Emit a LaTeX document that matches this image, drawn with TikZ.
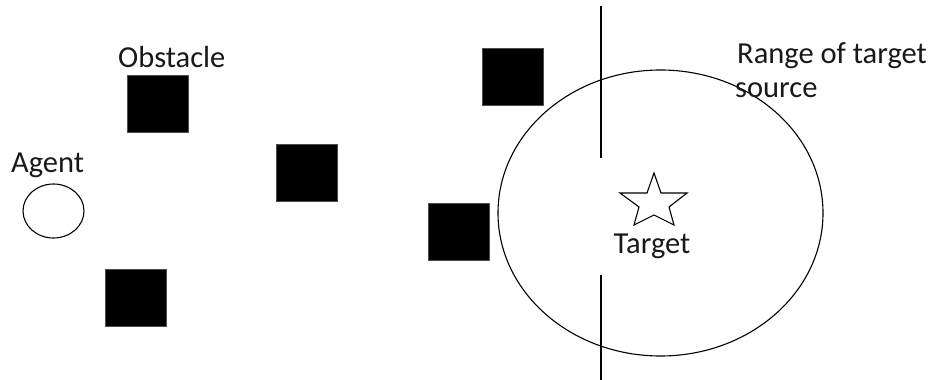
\documentclass[tikz,border=0pt]{standalone}
\usepackage{fontspec}
\setmainfont{Carlito}
\usetikzlibrary{shapes.geometric}
\begin{document}
\begin{tikzpicture}[x=1pt,y=-1pt,
  obst/.style={draw=black!70,fill=black,line width=0.6pt,inner sep=0pt,minimum width=61pt,minimum height=57pt},
  lbl/.style={inner sep=0pt,font=\fontsize{30.5}{36}\selectfont,text=black!90},
  thin/.style={line width=1.1pt}]
\useasboundingbox[fill=white] (0,0) rectangle (938,380);
% obstacles
\node[obst] (o1) at (158,103.5) {};
\node[obst] (o2) at (306.5,173) {};
\node[obst] (o3) at (135.5,297.5) {};
\node[obst] (o4) at (459,232) {};
\node[obst] (o5) at (512.5,77) {};
% agent
\node[draw,thin,ellipse,minimum width=61pt,minimum height=54pt,inner sep=0pt] (agent) at (53.5,211) {};
% range circle
\node[draw,thin,ellipse,minimum width=325pt,minimum height=286pt,inner sep=0pt] (range) at (660.5,213) {};
% vertical line
\coordinate (v1) at (601,6);
\coordinate (v2) at (601,158);
\coordinate (v3) at (601,275);
\coordinate (v4) at (601,380);
\draw[line width=1.3pt] (v1) -- (v2);
\draw[line width=1.3pt] (v3) -- (v4);
% star
\draw[thin,line join=miter] (654,173) -- (661,193) -- (687,193) -- (669,207) -- (674,225)
  -- (654,215) -- (634,225) -- (639,207) -- (620,193) -- (647,193) -- cycle;
% labels
\node[lbl,anchor=base west] (lobs) at (118,67) {Obstacle};
\node[lbl,anchor=base west] (lag) at (11,172) {Agent};
\node[lbl,anchor=base] (ltar) at (652,253) {Target};
\node[lbl,anchor=base west] (lr1) at (737,63) {Range of target};
\node[lbl,anchor=base west] (lr2) at (735,97) {source};
\end{tikzpicture}
\end{document}
